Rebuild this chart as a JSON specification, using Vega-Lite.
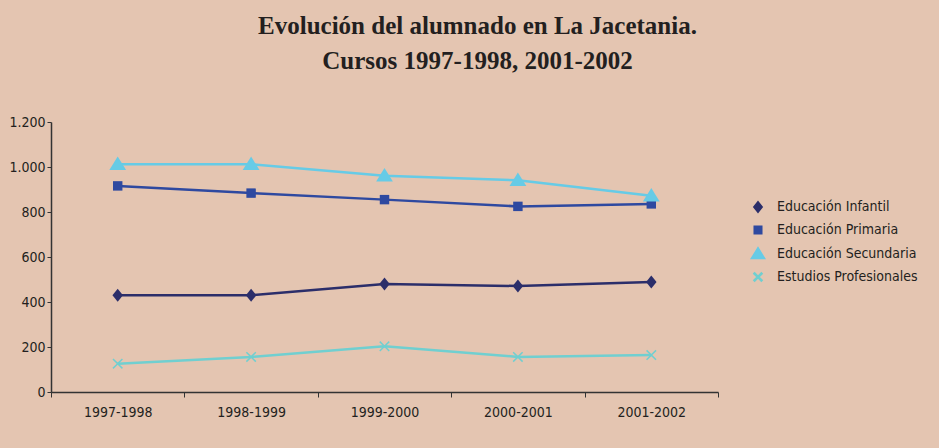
{
  "$schema": "https://vega.github.io/schema/vega-lite/v6.json",
  "width": 667,
  "height": 270,
  "autosize": "none",
  "padding": {"left": 51, "top": 122, "right": 221, "bottom": 56},
  "background": "#E4C5B1",
  "title": {
    "text": ["Evolución del alumnado en La Jacetania.", "Cursos 1997-1998, 2001-2002"],
    "font": "Liberation Serif",
    "fontSize": 25,
    "fontWeight": "bold",
    "color": "#231F20",
    "anchor": "middle",
    "dx": 93,
    "offset": 41,
    "lineHeight": 35
  },
  "config": {
    "view": {"stroke": null},
    "axis": {
      "labelFont": "DejaVu Sans Condensed, Liberation Sans, sans-serif",
      "labelFontSize": 14,
      "labelColor": "#231F20",
      "domainColor": "#333333",
      "tickColor": "#333333",
      "grid": false,
      "title": null
    }
  },
  "data": {
    "values": [
      {"curso": "1997-1998", "serie": "Educación Infantil", "v": 430},
      {"curso": "1998-1999", "serie": "Educación Infantil", "v": 430},
      {"curso": "1999-2000", "serie": "Educación Infantil", "v": 480},
      {"curso": "2000-2001", "serie": "Educación Infantil", "v": 471},
      {"curso": "2001-2002", "serie": "Educación Infantil", "v": 489},
      {"curso": "1997-1998", "serie": "Educación Primaria", "v": 916},
      {"curso": "1998-1999", "serie": "Educación Primaria", "v": 884},
      {"curso": "1999-2000", "serie": "Educación Primaria", "v": 855},
      {"curso": "2000-2001", "serie": "Educación Primaria", "v": 825},
      {"curso": "2001-2002", "serie": "Educación Primaria", "v": 836},
      {"curso": "1997-1998", "serie": "Educación Secundaria", "v": 1012},
      {"curso": "1998-1999", "serie": "Educación Secundaria", "v": 1012},
      {"curso": "1999-2000", "serie": "Educación Secundaria", "v": 961},
      {"curso": "2000-2001", "serie": "Educación Secundaria", "v": 941},
      {"curso": "2001-2002", "serie": "Educación Secundaria", "v": 872},
      {"curso": "1997-1998", "serie": "Estudios Profesionales", "v": 126},
      {"curso": "1998-1999", "serie": "Estudios Profesionales", "v": 156},
      {"curso": "1999-2000", "serie": "Estudios Profesionales", "v": 203},
      {"curso": "2000-2001", "serie": "Estudios Profesionales", "v": 156},
      {"curso": "2001-2002", "serie": "Estudios Profesionales", "v": 164}
    ]
  },
  "encoding": {
    "x": {
      "field": "curso",
      "type": "ordinal",
      "scale": {"type": "band", "paddingInner": 0, "paddingOuter": 0},
      "axis": {"labelAngle": 0, "tickBand": "extent", "tickSize": 5, "labelPadding": 8, "domainWidth": 1.5}
    },
    "y": {
      "field": "v",
      "type": "quantitative",
      "scale": {"domain": [0, 1200], "nice": false},
      "axis": {"values": [0, 200, 400, 600, 800, 1000, 1200], "tickSize": 4, "labelExpr": "replace(format(datum.value, ','), ',', '.')", "domainWidth": 1.5}
    },
    "color": {
      "field": "serie",
      "type": "nominal",
      "scale": {
        "domain": ["Educación Infantil", "Educación Primaria", "Educación Secundaria", "Estudios Profesionales"],
        "range": ["#2B2E6A", "#2E49A0", "#66CBE6", "#70CFD0"]
      },
      "legend": {
        "title": null,
        "orient": "none",
        "legendX": 700,
        "legendY": 78,
        "labelFont": "DejaVu Sans Condensed, Liberation Sans, sans-serif",
        "labelFontSize": 14,
        "labelColor": "#231F20",
        "rowPadding": 7,
        "symbolSize": 70,
        "labelOffset": 12
      }
    }
  },
  "layer": [
    {"mark": {"type": "line", "strokeWidth": 2.5}},
    {
      "mark": {"type": "point", "filled": true, "opacity": 1, "size": 110},
      "encoding": {
        "shape": {
          "field": "serie",
          "type": "nominal",
          "scale": {
            "domain": ["Educación Infantil", "Educación Primaria", "Educación Secundaria", "Estudios Profesionales"],
            "range": [
              "M0,-1.25L1,0L0,1.25L-1,0Z",
              "M-0.9,-0.9L0.9,-0.9L0.9,0.9L-0.9,0.9Z",
              "M0,-1.5L1.6,1.1L-1.6,1.1Z",
              "M-1,-0.8L-0.8,-1L0,-0.2L0.8,-1L1,-0.8L0.2,0L1,0.8L0.8,1L0,0.2L-0.8,1L-1,0.8L-0.2,0Z"
            ]
          }
        }
      }
    }
  ]
}
